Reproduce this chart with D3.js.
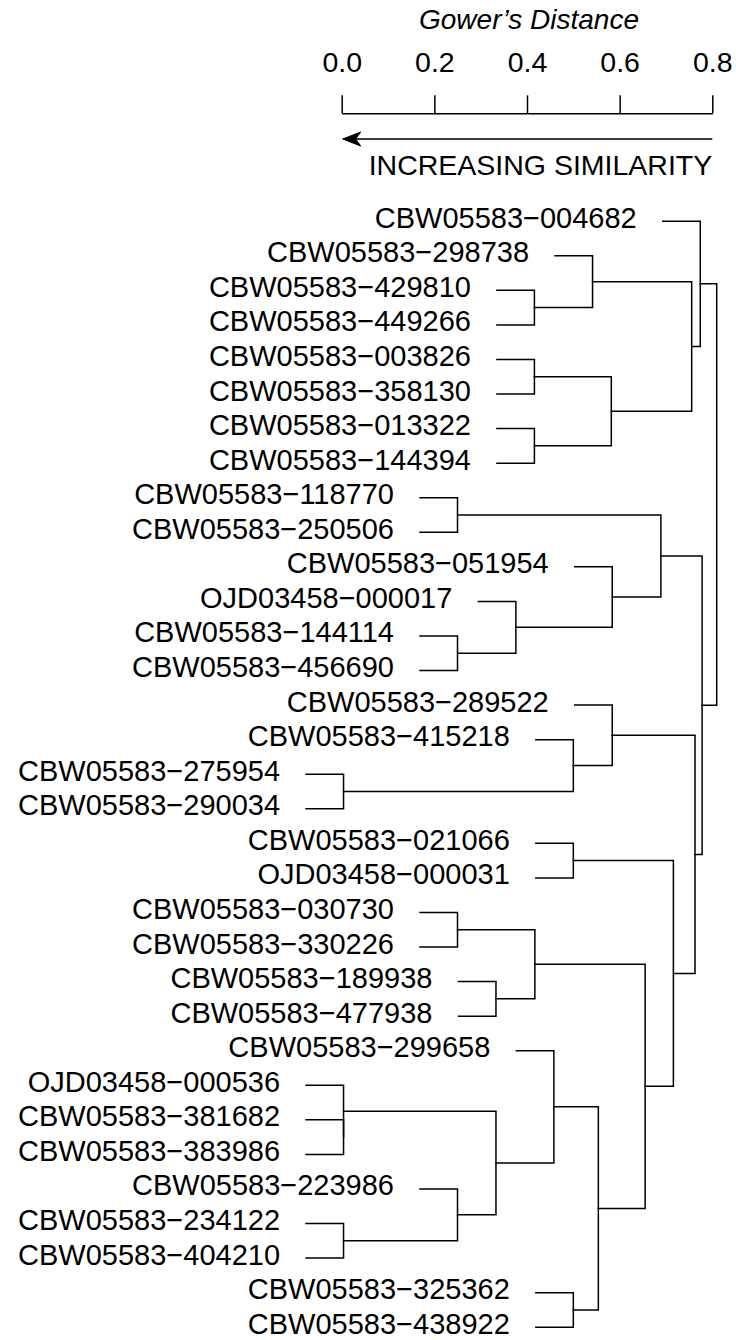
<!DOCTYPE html>
<html>
<head>
<meta charset="utf-8">
<script src="https://cdn.jsdelivr.net/npm/d3@7"></script>
<style>
  html, body { margin: 0; padding: 0; background: #ffffff; }
  svg { display: block; }
  text { font-family: "Liberation Sans", Arial, Helvetica, sans-serif; fill: #000; }
</style>
</head>
<body>
<script>
// ---- data ----
const leafLabels = [
  "CBW05583\u2212004682", "CBW05583\u2212298738", "CBW05583\u2212429810", "CBW05583\u2212449266",
  "CBW05583\u2212003826", "CBW05583\u2212358130", "CBW05583\u2212013322", "CBW05583\u2212144394",
  "CBW05583\u2212118770", "CBW05583\u2212250506", "CBW05583\u2212051954", "OJD03458\u2212000017",
  "CBW05583\u2212144114", "CBW05583\u2212456690", "CBW05583\u2212289522", "CBW05583\u2212415218",
  "CBW05583\u2212275954", "CBW05583\u2212290034", "CBW05583\u2212021066", "OJD03458\u2212000031",
  "CBW05583\u2212030730", "CBW05583\u2212330226", "CBW05583\u2212189938", "CBW05583\u2212477938",
  "CBW05583\u2212299658", "OJD03458\u2212000536", "CBW05583\u2212381682", "CBW05583\u2212383986",
  "CBW05583\u2212223986", "CBW05583\u2212234122", "CBW05583\u2212404210", "CBW05583\u2212325362",
  "CBW05583\u2212438922"
];
// hclust-style merge list: negative = leaf (1-based display order), positive = earlier merge (1-based)
const mergePairs = [
  [-17, -18], [-27, -28], [-26, 2], [-30, -31], [-9, -10], [-13, -14], [-21, -22], [-29, 4],
  [-23, -24], [3, 8], [-12, 6], [-3, -4], [-5, -6], [-7, -8], [7, 9], [-25, 10],
  [-16, 1], [-19, -20], [-32, -33], [-2, 12], [16, 19], [13, 14], [-11, 11], [-15, 17],
  [15, 21], [5, 23], [18, 25], [20, 22], [24, 27], [-1, 28], [26, 29], [30, 31]
];
const mergeHeights = [
  0.004, 0.004, 0.004, 0.004, 0.250, 0.250, 0.250, 0.250,
  0.333, 0.333, 0.376, 0.416, 0.416, 0.416, 0.417, 0.458,
  0.500, 0.500, 0.500, 0.5415, 0.554, 0.582, 0.584, 0.584,
  0.655, 0.689, 0.716, 0.7555, 0.7627, 0.774, 0.778, 0.8095
];
const axisTicks = [0.0, 0.2, 0.4, 0.6, 0.8];
const hangFraction = 0.1;
const axisTitle = "Gower\u2019s Distance";
const arrowLabel = "INCREASING SIMILARITY";

// ---- drawing ----
const W = 736, H = 1340;
const svg = d3.select("body").append("svg").attr("width", W).attr("height", H);
svg.append("rect").attr("width", W).attr("height", H).attr("fill", "#fff");

const x = d3.scaleLinear().domain([0, 0.8]).range([341.7, 712.3]);
const y = d3.scaleLinear().domain([0, leafLabels.length - 1]).range([221.2, 1327.2]);
const hang = hangFraction * d3.max(mergeHeights);

// axis
const axisG = svg.append("g").attr("transform", "translate(0,113.3)")
  .call(d3.axisTop(x).tickValues(axisTicks).tickSize(18).tickSizeOuter(0)
        .tickPadding(23.6).tickFormat(d3.format(".1f")));
axisG.attr("font-size", null).attr("font-family", null);
axisG.selectAll("path, line").attr("stroke", "#000").attr("stroke-width", 1.5);
axisG.selectAll("text").style("font-size", "28.5px").attr("fill", "#000");

svg.append("text")
  .attr("x", (x(0) + x(0.8)) / 2 + 2).attr("y", 29.3)
  .attr("text-anchor", "middle")
  .style("font-size", "28px").style("font-style", "italic")
  .text(axisTitle);

// arrow
const ay = 139;
svg.append("line").attr("x1", x(0.8)).attr("x2", x(0) + 4).attr("y1", ay).attr("y2", ay)
  .attr("stroke", "#000").attr("stroke-width", 1.5);
svg.append("path")
  .attr("d", `M${x(0) + 1},${ay} L${x(0) + 19},${ay - 7} L${x(0) + 14},${ay} L${x(0) + 19},${ay + 7} Z`)
  .attr("fill", "#000").attr("stroke", "#000").attr("stroke-width", 1).attr("stroke-linejoin", "miter");

svg.append("text")
  .attr("x", x(0.8)).attr("y", 175)
  .attr("text-anchor", "end")
  .style("font-size", "28.5px")
  .text(arrowLabel);

// build the tree
const merged = [];
function childOf(ref) {
  if (ref < 0) return { leaf: true, idx: -ref - 1, y: y(-ref - 1) };
  return merged[ref - 1];
}
mergePairs.forEach((p, k) => {
  const a = childOf(p[0]), b = childOf(p[1]);
  merged.push({ leaf: false, h: mergeHeights[k], y: (a.y + b.y) / 2, kids: [a, b] });
});

const segs = [];
const leafPos = [];
merged.forEach(m => {
  const [a, b] = m.kids;
  const ha = a.leaf ? m.h - hang : a.h;
  const hb = b.leaf ? m.h - hang : b.h;
  if (a.leaf) leafPos.push({ idx: a.idx, h: ha });
  if (b.leaf) leafPos.push({ idx: b.idx, h: hb });
  segs.push(`M${x(ha)},${a.y}H${x(m.h)}V${b.y}H${x(hb)}`);
});

svg.append("g").selectAll("path").data(segs).join("path")
  .attr("d", d => d)
  .attr("fill", "none").attr("stroke", "#000").attr("stroke-width", 1.5)
  .attr("stroke-linejoin", "miter").attr("stroke-linecap", "square");

svg.append("g").selectAll("text").data(leafPos).join("text")
  .attr("x", d => x(d.h) - 26)
  .attr("y", d => y(d.idx) + 6.5)
  .attr("text-anchor", "end")
  .style("font-size", "29px")
  .text(d => leafLabels[d.idx]);
</script>
</body>
</html>
